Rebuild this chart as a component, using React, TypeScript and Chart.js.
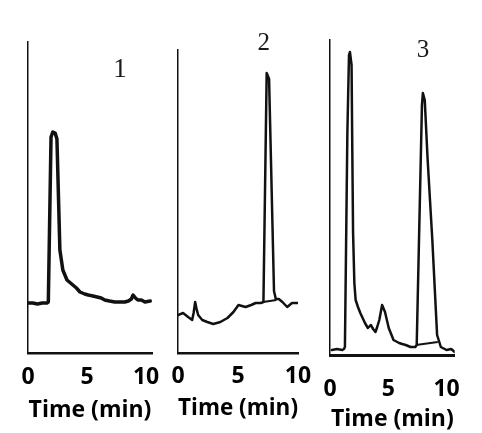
import React, { useEffect, useRef } from "react";
import { Chart, registerables } from "chart.js";

Chart.register(...registerables);

// ---- data (time in min, detector signal in arbitrary units) ----
const panelNames = ["1", "2", "3"];
const xTickValues = [0, 5, 10];
const xAxisTitle = "Time (min)";

const p1Time = [0, 0.4, 0.8, 1.2, 1.6, 1.72, 1.95, 2.1, 2.3, 2.45, 2.7, 2.95, 3.3, 3.8, 4.1, 4.4, 4.8, 5.1, 5.5, 5.85, 6.2, 6.5, 6.9, 7.35, 7.8, 8.2, 8.5, 8.75, 8.9, 9.1, 9.3, 9.6, 9.9, 10.35];
const p1Signal = [50, 50, 49, 50, 50, 51, 216, 221, 220, 214, 103, 83, 73, 68, 65, 61, 59, 58, 57, 56, 55, 53, 52, 51, 51, 51, 52, 54, 58, 55, 53, 53, 51, 52];

const p2Time = [0, 0.42, 0.84, 1.18, 1.3, 1.43, 1.55, 1.68, 2.02, 2.44, 2.94, 3.53, 4.12, 4.62, 5.04, 5.63, 6.1, 6.47, 6.9, 7.12, 7.39, 7.59, 8.0, 8.15, 8.4, 8.7, 9.1, 9.5, 10];
const p2Signal = [38, 40, 36, 33, 40, 51, 44, 38, 33, 31, 29, 31, 35, 41, 48, 46, 48, 50, 50, 51, 280, 274, 62, 54, 54, 51, 46, 50, 50];
const p2BaseTime = [7.1, 8.2];
const p2BaseSignal = [51, 53];

const p3Time = [0.16, 0.6, 1.06, 1.2, 1.28, 1.49, 1.63, 1.71, 1.85, 1.9, 1.98, 2.09, 2.2, 2.4, 2.6, 3.0, 3.25, 3.5, 3.7, 3.9, 4.05, 4.23, 4.47, 4.72, 5.04, 5.45, 5.93, 6.2, 6.5, 6.91, 7.32, 7.44, 7.89, 7.97, 8.13, 8.37, 8.78, 9.19, 9.51, 10.0, 10.4, 10.7];
const p3Signal = [5, 6, 5, 6, 8, 222, 300, 303, 290, 222, 122, 72, 55, 48, 42, 32, 27, 30, 26, 23, 28, 35, 50, 43, 27, 15, 12, 11, 10, 8, 8, 10, 250, 262, 255, 197, 115, 20, 8, 5, 6, 3];
const p3BaseTime = [7.38, 9.25];
const p3BaseSignal = [10, 13];

const zip = (xs: number[], ys: number[]) => xs.map((x, i) => ({ x, y: ys[i] }));

// ---- layout / style per panel ----
type PanelCfg = {
  name: string;
  trace: { x: number; y: number }[];
  base?: { x: number; y: number }[];
  xMax: number;
  yMax: number;
  pad: { left: number; right: number; top: number; bottom: number };
  tickPad: number;
  titleTop: number;
  lineWidth: number;
  xBorder: number;
  labelAt: { x: number; y: number };
  labelFont: number;
};

const panels: PanelCfg[] = [
  {
    name: panelNames[0],
    trace: zip(p1Time, p1Signal),
    xMax: 10.5,
    yMax: 311,
    pad: { left: 28, right: 330, top: 42, bottom: 8.8 },
    tickPad: 11,
    titleTop: -6,
    lineWidth: 3.5,
    xBorder: 2.5,
    labelAt: { x: 7.8, y: 283 },
    labelFont: 27,
  },
  {
    name: panelNames[1],
    trace: zip(p2Time, p2Signal),
    base: zip(p2BaseTime, p2BaseSignal),
    xMax: 10,
    yMax: 303,
    pad: { left: 178, right: 184, top: 50, bottom: 11.2 },
    tickPad: 10,
    titleTop: -6.4,
    lineWidth: 2.5,
    xBorder: 2.5,
    labelAt: { x: 7.14, y: 310 },
    labelFont: 25,
  },
  {
    name: panelNames[2],
    trace: zip(p3Time, p3Signal),
    base: zip(p3BaseTime, p3BaseSignal),
    xMax: 10.7,
    yMax: 315,
    pad: { left: 330, right: 20, top: 40, bottom: 0 },
    tickPad: 21,
    titleTop: -19.2,
    lineWidth: 2.5,
    xBorder: 3,
    labelAt: { x: 7.97, y: 305 },
    labelFont: 25,
  },
];

const W = 482;
const H = 433;
const tickFont = { family: "'Open Sans', 'DejaVu Sans', sans-serif", size: 23, weight: "bold" as const };

function Panel({ cfg }: { cfg: PanelCfg }) {
  const ref = useRef<HTMLCanvasElement | null>(null);
  useEffect(() => {
    if (!ref.current) return;
    const labelPlugin = {
      id: "panelLabel" + cfg.name,
      afterDraw(chart: any) {
        const { ctx, scales } = chart;
        const px = scales.x.getPixelForValue(cfg.labelAt.x);
        const py = scales.y.getPixelForValue(cfg.labelAt.y);
        ctx.save();
        ctx.font = `${cfg.labelFont}px 'Liberation Serif', 'DejaVu Serif', serif`;
        ctx.fillStyle = "#1a1a1a";
        ctx.textAlign = "center";
        ctx.textBaseline = "middle";
        ctx.fillText(cfg.name, px, py);
        ctx.restore();
      },
    };
    const datasets: any[] = [
      {
        data: cfg.trace,
        borderColor: "#111",
        borderWidth: cfg.lineWidth,
        pointRadius: 0,
        tension: 0,
        fill: false,
        borderJoinStyle: "round",
        borderCapStyle: "round",
      },
    ];
    if (cfg.base) {
      datasets.push({
        data: cfg.base,
        borderColor: "#111",
        borderWidth: 2,
        pointRadius: 0,
        tension: 0,
        fill: false,
      });
    }
    const chart = new Chart(ref.current, {
      type: "line",
      data: { datasets },
      plugins: [labelPlugin],
      options: {
        responsive: false,
        animation: false,
        layout: { padding: cfg.pad },
        plugins: { legend: { display: false }, tooltip: { enabled: false }, title: { display: false } },
        scales: {
          x: {
            type: "linear",
            min: 0,
            max: cfg.xMax,
            grid: { display: false, drawTicks: false },
            border: { display: true, color: "#111", width: cfg.xBorder },
            afterBuildTicks: (axis: any) => {
              axis.ticks = xTickValues.map((v) => ({ value: v }));
            },
            ticks: {
              padding: cfg.tickPad,
              color: "#000",
              font: tickFont,
              maxRotation: 0,
              autoSkip: false,
            },
            title: {
              display: true,
              text: xAxisTitle,
              color: "#000",
              font: tickFont,
              padding: { top: cfg.titleTop, bottom: 0 },
            },
          },
          y: {
            type: "linear",
            min: 0,
            max: cfg.yMax,
            grid: { display: false, drawTicks: false },
            border: { display: true, color: "#111", width: 1.5 },
            ticks: { display: false },
          },
        },
      },
    });
    return () => chart.destroy();
  }, [cfg]);
  return (
    <canvas
      ref={ref}
      width={W}
      height={H}
      style={{ position: "absolute", left: 0, top: 0, width: W, height: H }}
    />
  );
}

export default function App() {
  return (
    <div style={{ position: "absolute", left: 0, top: 0, width: W, height: H, background: "#fff", overflow: "hidden" }}>
      {panels.map((p) => (
        <Panel key={p.name} cfg={p} />
      ))}
    </div>
  );
}
